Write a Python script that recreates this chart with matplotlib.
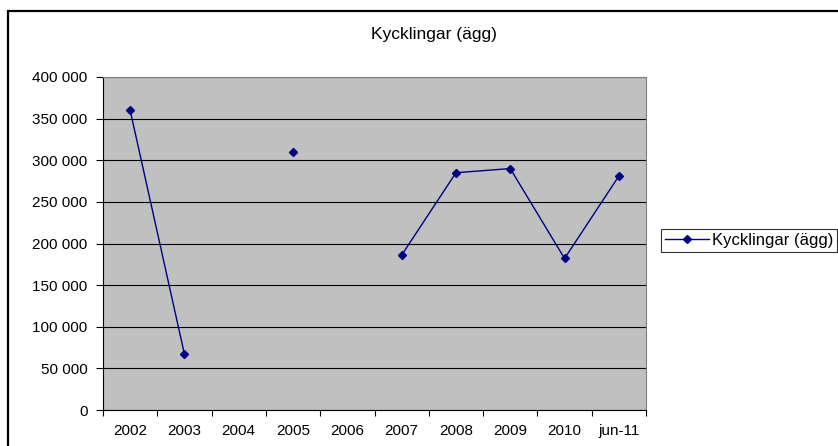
import matplotlib.pyplot as plt
import matplotlib.patches as mpatches
import numpy as np

plt.rcParams['font.family'] = ['Liberation Sans', 'DejaVu Sans']

# data
categories = ["2002", "2003", "2004", "2005", "2006", "2007", "2008", "2009", "2010", "jun-11"]
values = [360000, 67000, np.nan, 310000, np.nan, 186000, 285000, 290000, 182000, 281000]
yticks = [0, 50000, 100000, 150000, 200000, 250000, 300000, 350000, 400000]

W, H = 838, 446
fig = plt.figure(figsize=(W / 100, H / 100), dpi=100)

# outer chart border (runs off the right and bottom edges)
fig.patches.append(mpatches.Rectangle((8 / W, -0.05), 1.0, 1 - 11 / H + 0.05,
                                      transform=fig.transFigure, fill=False,
                                      edgecolor='black', linewidth=1.6))

ax = fig.add_axes([103 / W, 1 - 410 / H, (646 - 103) / W, (410 - 77) / H])
ax.set_facecolor('#c0c0c0')

x = np.arange(len(categories))
line, = ax.plot(x, values, color='#000080', linewidth=1.0, marker='D',
                markersize=4.5, label='Kycklingar (ägg)')

ax.set_xlim(-0.5, len(categories) - 0.5)
ax.set_ylim(0, 400000)
ax.set_yticks(yticks)
ax.set_yticklabels([f"{v:,}".replace(",", " ") for v in yticks])
ax.yaxis.grid(True, color='black', linewidth=0.8)
ax.set_axisbelow(True)

# category labels centered, tick marks on boundaries
ax.set_xticks(np.arange(len(categories) + 1) - 0.5)
ax.set_xticklabels([])
ax.set_xticks(x, minor=True)
ax.set_xticklabels(categories, minor=True)
ax.tick_params(axis='x', which='minor', length=0, pad=10, labelsize=11)
ax.tick_params(axis='x', which='major', length=4, direction='out', color='black')
ax.tick_params(axis='y', length=5, direction='out', labelsize=11, pad=6)

for side in ['top', 'right']:
    ax.spines[side].set_color('#808080')
ax.spines['left'].set_color('black')
ax.spines['bottom'].set_color('black')

fig.text(434 / W, 1 - 34 / H, 'Kycklingar (ägg)', ha='center',
         va='center', fontsize=12.5)

leg = fig.legend(handles=[line], loc='upper left', bbox_to_anchor=(661 / W, 1 - 229 / H),
                 frameon=True, fancybox=False, edgecolor='black', fontsize=12,
                 handlelength=2.6, handletextpad=0.2, borderpad=0.25, borderaxespad=0)
leg.get_frame().set_linewidth(0.8)

fig.savefig('out.png', dpi=100)
